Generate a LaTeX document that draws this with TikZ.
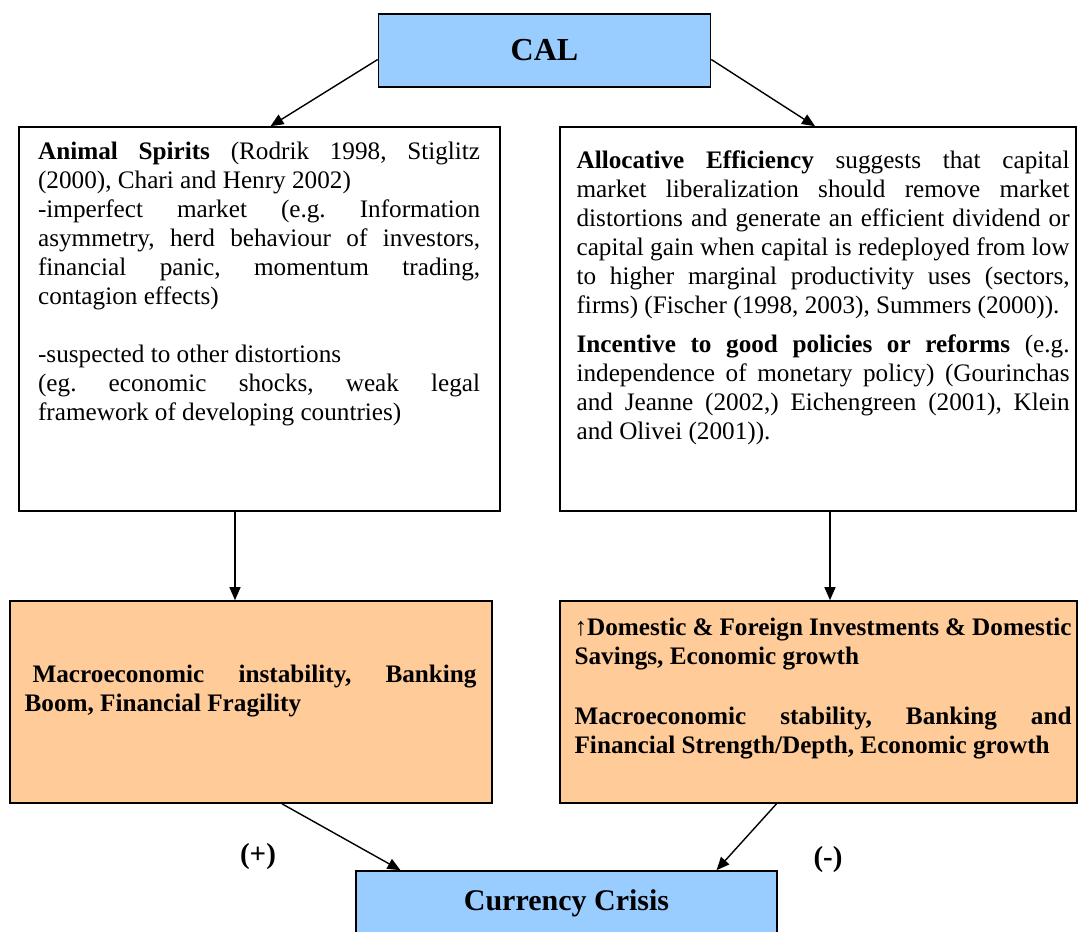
\documentclass[tikz,border=0pt]{standalone}
\usepackage{fontspec}
\setmainfont{Liberation Serif}
\usepackage{tikz}
\usetikzlibrary{positioning}
\usetikzlibrary{arrows.meta}
\definecolor{calblue}{HTML}{99CCFF}
\definecolor{effectorange}{HTML}{FFCC99}
\tolerance=9999
\hyphenpenalty=10000
\frenchspacing

\begin{document}
\begin{tikzpicture}[x=0.5pt, y=-0.5pt,
    box/.style={draw, line width=0.8pt, inner sep=0pt},
    body/.style={inner sep=0pt, align=justify, font=\fontsize{12.6}{14.5}\selectfont},
    strong/.style={body, font=\fontsize{12.6}{14.5}\selectfont\bfseries},
    sign/.style={font=\fontsize{14.5}{17}\selectfont\bfseries},
    arr/.style={-{Triangle[length=6.5pt, width=5.5pt]}, line width=0.7pt}]
    \useasboundingbox (0,0) rectangle (1078,932);

    \node[box, fill=calblue, minimum width=166pt, minimum height=36.5pt, font=\fontsize{16}{19}\selectfont\bfseries] (cal) at (544.5,50.5) {CAL};

    \node[box, minimum width=240.5pt, minimum height=192pt] (animal) at (259.5,319) {};
    \node[box, minimum width=258pt, minimum height=192pt] (alloc) at (818,319) {};
    \node[box, fill=effectorange, minimum width=241pt, minimum height=101pt] (instab) at (251,702) {};
    \node[box, fill=effectorange, minimum width=258.5pt, minimum height=101pt] (stable) at (818.5,702) {};
    \node[box, fill=calblue, minimum width=210.5pt, minimum height=32pt, font=\fontsize{15}{18}\selectfont\bfseries] (crisis) at (566.5,903) {Currency Crisis};

    % box texts
    \node[body, text width=221pt, below right=7.5pt and 9.75pt of animal.north west] (animaltxt) {%
        \textbf{Animal Spirits} (Rodrik 1998, Stiglitz\linebreak
        (2000), Chari and Henry 2002)\\
        -imperfect market (e.g. Information\linebreak
        asymmetry, herd behaviour of investors,\linebreak
        financial panic, momentum trading,\linebreak
        contagion effects)\\[14.5pt]
        -suspected to other distortions\\
        (eg. economic shocks, weak legal\linebreak
        framework of developing countries)};

    \node[body, text width=246.5pt, below right=12pt and 8.5pt of alloc.north west] (alloctxt) {%
        \textbf{Allocative Efficiency} suggests that capital\linebreak
        market liberalization should remove market\linebreak
        distortions and generate an efficient dividend or\linebreak
        capital gain when capital is redeployed from low\linebreak
        to higher marginal productivity uses (sectors,\linebreak
        firms) (Fischer (1998, 2003), Summers (2000)).\\[5pt]
        \textbf{Incentive to good policies or reforms} (e.g.\linebreak
        independence of monetary policy) (Gourinchas\linebreak
        and Jeanne (2002,) Eichengreen (2001), Klein\linebreak
        and Olivei (2001)).};

    \node[strong, text width=226pt, below right=32pt and 7.5pt of instab.north west] (instabtxt) {%
        \hspace*{4pt}Macroeconomic instability, Banking\linebreak
        Boom, Financial Fragility};

    \node[strong, text width=248.5pt, below right=8.5pt and 7.5pt of stable.north west] (stabletxt) {%
        ↑Domestic \& Foreign Investments \& Domestic\linebreak
        Savings, Economic growth\\[15.5pt]
        Macroeconomic stability, Banking and\linebreak
        Financial Strength/Depth, Economic growth};

    % arrows and signs
    \draw[arr] ([yshift=-4.5pt]cal.west) -- ([xshift=5.5pt]animal.north);
    \draw[arr] ([yshift=-4.5pt]cal.east) -- ([xshift=-1.5pt]alloc.north);
    \draw[arr] ([xshift=-12.25pt]animal.south) -- ([xshift=-12.25pt]animal.south |- instab.north);
    \draw[arr] ([xshift=6pt]alloc.south) -- ([xshift=6pt]alloc.south |- stable.north);
    \draw[arr] ([xshift=15.5pt]instab.south) -- ([xshift=-83pt]crisis.north);
    \draw[arr] ([xshift=-21pt]stable.south) -- ([xshift=75pt]crisis.north);
    \node[sign] (plus) at (258,857) {(+)};
    \node[sign] (minus) at (828,860) {(-)};
\end{tikzpicture}
\end{document}
